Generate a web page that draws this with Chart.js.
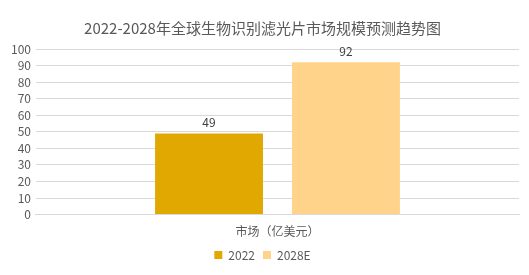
<!DOCTYPE html>
<html>
<head>
<meta charset="utf-8">
<script src="https://cdn.jsdelivr.net/npm/chart.js@4"></script>
<style>
  body { margin: 0; background: #fff; }
  #wrap { width: 529px; height: 275px; }
</style>
</head>
<body>
<div id="wrap"><canvas id="chart"></canvas></div>
<script>
// chart data
var categories = ['市场（亿美元）'];
var seriesNames = ['2022', '2028E'];
var values2022 = [49];
var values2028 = [92];
var colors = ['#E0A800', '#FFD38A'];

var FONT = '"Microsoft YaHei", "Noto Sans CJK SC", "DejaVu Sans", sans-serif';

// draws the value above each bar
var valueLabels = {
    id: 'valueLabels',
    afterDatasetsDraw: function (chart) {
        var ctx = chart.ctx;
        ctx.save();
        ctx.fillStyle = '#404040';
        ctx.font = '12px ' + FONT;
        ctx.textAlign = 'center';
        ctx.textBaseline = 'bottom';
        chart.data.datasets.forEach(function (ds, i) {
            chart.getDatasetMeta(i).data.forEach(function (bar, j) {
                ctx.fillText(ds.data[j], bar.x, bar.y - 5);
            });
        });
        ctx.restore();
    }
};

new Chart(document.getElementById('chart'), {
    type: 'bar',
    data: {
        labels: categories,
        datasets: [{
            label: seriesNames[0],
            data: values2022,
            backgroundColor: colors[0],
            categoryPercentage: 0.567,
            barPercentage: 0.788
        }, {
            label: seriesNames[1],
            data: values2028,
            backgroundColor: colors[1],
            categoryPercentage: 0.567,
            barPercentage: 0.788
        }]
    },
    options: {
        responsive: true,
        maintainAspectRatio: false,
        animation: false,
        layout: { padding: { left: 6, right: 10, top: 8, bottom: 4 } },
        plugins: {
            title: {
                display: true,
                text: '2022-2028年全球生物识别滤光片市场规模预测趋势图',
                color: '#595959',
                font: { family: FONT, size: 15, weight: 'normal' },
                padding: { top: 11, bottom: 12 }
            },
            legend: {
                position: 'bottom',
                labels: {
                    color: '#595959',
                    font: { family: FONT, size: 12 },
                    boxWidth: 8,
                    boxHeight: 8,
                    padding: 8
                }
            },
            tooltip: { enabled: false }
        },
        scales: {
            x: {
                grid: { display: false },
                border: { color: '#D9D9D9' },
                ticks: { color: '#595959', font: { family: FONT, size: 12 }, padding: 2 }
            },
            y: {
                min: 0,
                max: 100,
                ticks: { stepSize: 10, autoSkip: false, color: '#595959', font: { family: FONT, size: 12 }, padding: 5 },
                grid: { color: '#D9D9D9', drawTicks: false },
                border: { display: false }
            }
        }
    },
    plugins: [valueLabels]
});
</script>
</body>
</html>
